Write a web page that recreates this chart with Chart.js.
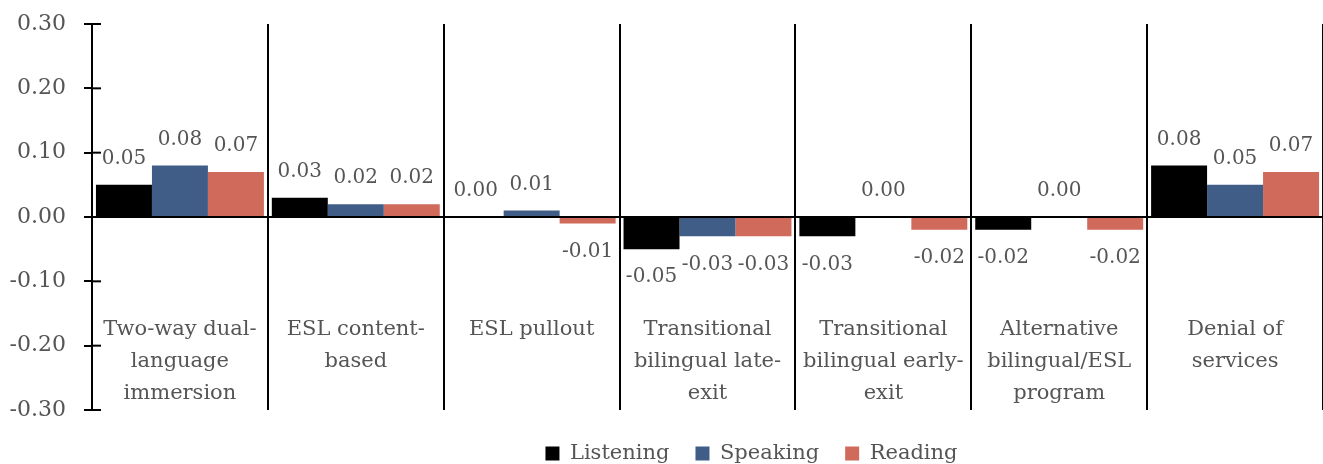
<!DOCTYPE html>
<html>
<head>
  <meta charset="utf-8">
  <title>Program effects by domain</title>
  <script src="https://cdn.jsdelivr.net/npm/chart.js"></script>
  <style>
    body { margin: 0; background: #fff; }
    .wrap { width: 1323px; height: 464px; position: relative; }
  </style>
</head>
<body>
  <div class="wrap"><canvas id="c"></canvas></div>
  <script>
    // category labels, pre-split into the lines shown in the chart
    const categories = [
      ['Two-way dual-', 'language', 'immersion'],
      ['ESL content-', 'based'],
      ['ESL pullout'],
      ['Transitional', 'bilingual late-', 'exit'],
      ['Transitional', 'bilingual early-', 'exit'],
      ['Alternative', 'bilingual/ESL', 'program'],
      ['Denial of', 'services']
    ];
    const listening = [0.05, 0.03, 0.00, -0.05, -0.03, -0.02, 0.08];
    const speaking  = [0.08, 0.02, 0.01, -0.03, 0.00, 0.00, 0.05];
    const reading   = [0.07, 0.02, -0.01, -0.03, -0.02, -0.02, 0.07];
    const yTicks    = [-0.30, -0.20, -0.10, 0.00, 0.10, 0.20, 0.30];

    // which zero values get a label (the rest were hidden)
    const showZero = {
      0: [2],        // Listening, ESL pullout
      1: [4, 5]      // Speaking, early-exit and alternative
    };

    const FONT = '"DejaVu Serif", serif';
    const GREY = '#555555';

    const overlay = {
      id: 'overlay',
      afterLayout(chart) {
        // legend sits right of centre and a bit lower in the original
        const lg = chart.legend;
        lg.left += 90; lg.right += 90;
        lg.top += 7; lg.bottom += 7;
      },
      afterDatasetsDraw(chart) {
        const { ctx, chartArea, scales } = chart;
        const x = scales.x, y = scales.y;
        const y0 = y.getPixelForValue(0);
        ctx.save();

        // zero line
        ctx.strokeStyle = '#000';
        ctx.lineWidth = 2;
        ctx.beginPath();
        ctx.moveTo(chartArea.left, y0);
        ctx.lineTo(chartArea.right, y0);
        ctx.stroke();

        // inner half of the cross ticks
        yTicks.forEach(v => {
          const py = y.getPixelForValue(v);
          ctx.beginPath();
          ctx.moveTo(chartArea.left, py);
          ctx.lineTo(chartArea.left + 9, py);
          ctx.stroke();
        });

        // data labels
        ctx.font = '20px ' + FONT;
        ctx.fillStyle = GREY;
        ctx.textAlign = 'center';
        ctx.textBaseline = 'middle';
        chart.data.datasets.forEach((ds, di) => {
          const meta = chart.getDatasetMeta(di);
          meta.data.forEach((bar, i) => {
            const v = ds.data[i];
            if (v === 0 && !(showZero[di] || []).includes(i)) return;
            const py = v < 0 ? bar.y + 28 : bar.y - 26;
            ctx.fillText(v.toFixed(2), bar.x, py);
          });
        });

        // category labels inside the plot
        ctx.font = '21px ' + FONT;
        const top = y.getPixelForValue(-0.175);
        categories.forEach((lines, i) => {
          const px = x.getPixelForValue(i);
          lines.forEach((t, k) => ctx.fillText(t, px, top + k * 32));
        });

        ctx.restore();
      }
    };

    new Chart(document.getElementById('c'), {
      type: 'bar',
      data: {
        labels: categories.map(l => l.join(' ')),
        datasets: [
          { label: 'Listening', data: listening, backgroundColor: '#000000' },
          { label: 'Speaking',  data: speaking,  backgroundColor: '#3F5D86' },
          { label: 'Reading',   data: reading,   backgroundColor: '#D06A5B' }
        ]
      },
      options: {
        responsive: true,
        maintainAspectRatio: false,
        animation: false,
        layout: { padding: { top: 24, right: 0, bottom: -3, left: 0 } },
        datasets: {
          bar: { categoryPercentage: 0.955, barPercentage: 1.0 }
        },
        scales: {
          x: {
            ticks: { display: false },
            border: { display: false },
            grid: { offset: true, color: '#000', lineWidth: 2, drawTicks: false }
          },
          y: {
            min: -0.3,
            max: 0.3,
            afterBuildTicks: axis => { axis.ticks = yTicks.map(v => ({ value: v })); },
            afterFit: axis => {
              axis.width = 92;
              axis.paddingTop = 0;
              axis.paddingBottom = 0;
            },
            ticks: {
              font: { family: FONT, size: 22 },
              color: GREY,
              padding: 18,
              callback: v => (Math.abs(v) < 1e-9 ? 0 : v).toFixed(2)
            },
            border: { display: true, color: '#000', width: 2 },
            grid: { drawOnChartArea: false, drawTicks: true, tickLength: 8, color: '#000', lineWidth: 2 }
          }
        },
        plugins: {
          legend: {
            position: 'bottom',
            labels: {
              boxWidth: 14,
              boxHeight: 14,
              padding: 26,
              color: GREY,
              font: { family: FONT, size: 21 }
            }
          },
          tooltip: { enabled: false }
        }
      },
      plugins: [overlay]
    });
  </script>
</body>
</html>
